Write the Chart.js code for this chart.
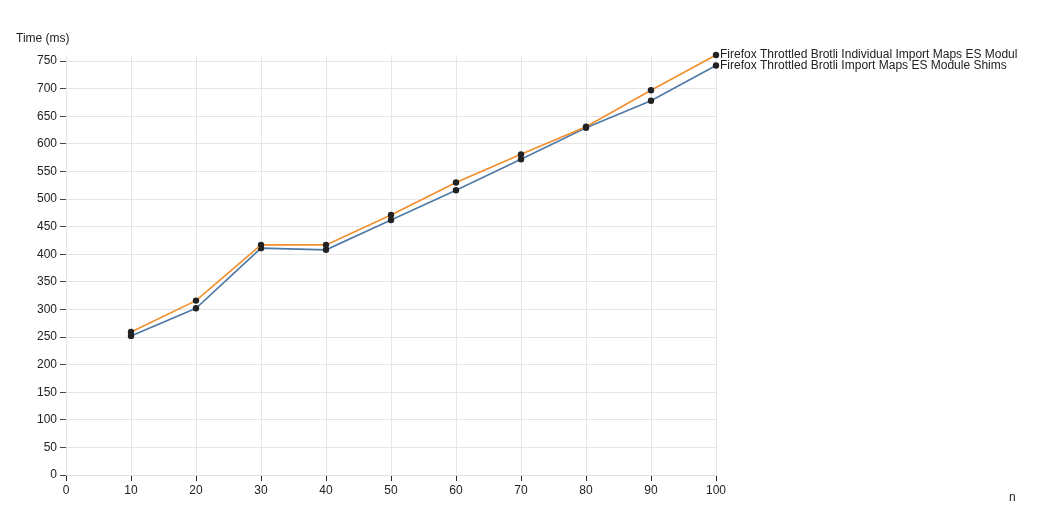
<!DOCTYPE html>
<html>
<head>
<meta charset="utf-8">
<script src="https://cdn.jsdelivr.net/npm/chart.js@4"></script>
<style>
html,body{margin:0;padding:0;background:#fff;}
#wrap{width:1049px;height:524px;position:relative;}
</style>
</head>
<body>
<div id="wrap"><canvas id="c" width="1049" height="524"></canvas></div>
<script>
const nValues = [10, 20, 30, 40, 50, 60, 70, 80, 90, 100];
const individualTimes = [259, 316, 417, 417, 471, 530, 581, 631, 697, 761];
const shimsTimes = [252, 302, 411, 408, 462, 516, 572, 629, 678, 742];
const seriesNames = ["Firefox Throttled Brotli Individual Import Maps ES Modul", "Firefox Throttled Brotli Import Maps ES Module Shims"];
const yTicks = [0,50,100,150,200,250,300,350,400,450,500,550,600,650,700,750];
const xTicks = [0,10,20,30,40,50,60,70,80,90,100];
const yMax = 761;

const FONT = "'Liberation Sans', Arial, sans-serif";

const labelPlugin = {
  id: 'labels',
  afterDatasetsDraw(chart) {
    const ctx = chart.ctx;
    ctx.save();
    ctx.font = "12px " + FONT;
    ctx.fillStyle = "#222";
    ctx.textBaseline = "middle";
    ctx.textAlign = "left";
    chart.data.datasets.forEach((ds, i) => {
      const meta = chart.getDatasetMeta(i);
      const pt = meta.data[meta.data.length - 1];
      ctx.fillText(ds.label, pt.x + 4, pt.y);
    });
    ctx.textBaseline = "alphabetic";
    ctx.fillText("Time (ms)", 16, 42);
    ctx.fillText("n", 1009, 501);
    ctx.restore();
  }
};

const ds = (label, data, color) => ({
  label,
  data: nValues.map((x, i) => ({x, y: data[i]})),
  borderColor: color,
  borderWidth: 1.6,
  pointRadius: 3.2,
  pointBackgroundColor: "#222",
  pointBorderColor: "#222",
  pointBorderWidth: 0,
  tension: 0,
  fill: false,
  clip: false
});

new Chart(document.getElementById('c'), {
  type: 'line',
  data: {
    datasets: [
      ds(seriesNames[0], individualTimes, "#f28e2b"),
      ds(seriesNames[1], shimsTimes, "#4e79a7")
    ]
  },
  options: {
    responsive: false,
    animation: false,
    devicePixelRatio: 1,
    layout: {padding: {top: 55, right: 333, left: 0, bottom: 0}},
    plugins: {legend: {display: false}, tooltip: {enabled: false}},
    scales: {
      x: {
        type: 'linear',
        min: 0, max: 100,
        afterFit(s) { s.height = 49; },
        afterBuildTicks(s) { s.ticks = xTicks.map(v => ({value: v})); },
        grid: {color: "#e6e6e6", tickColor: "#222", tickLength: 6, lineWidth: 1},
        border: {color: "#e0e0e0"},
        ticks: {color: "#222", font: {family: FONT, size: 12}, padding: 2, maxRotation: 0}
      },
      y: {
        type: 'linear',
        min: 0, max: yMax,
        afterFit(s) { s.width = 66; },
        afterBuildTicks(s) { s.ticks = yTicks.map(v => ({value: v})); },
        grid: {color: "#e6e6e6", tickColor: "#444", tickLength: 6, lineWidth: 1},
        border: {color: "#e0e0e0"},
        ticks: {color: "#222", font: {family: FONT, size: 12}, padding: 3}
      }
    }
  },
  plugins: [labelPlugin]
});
</script>
</body>
</html>
